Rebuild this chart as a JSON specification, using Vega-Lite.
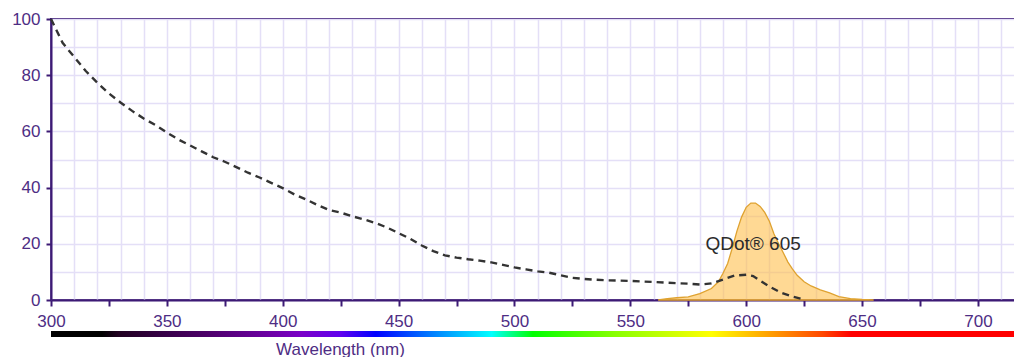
{
  "$schema": "https://vega.github.io/schema/vega-lite/v6.json",
  "padding": {"left": 10, "top": 9, "right": 0, "bottom": 0},
  "config": {"font": "Liberation Sans", "view": {"stroke": null}},
  "spacing": 1,
  "datasets": {
    "abs": [
      {"wl": 300, "v": 100}, {"wl": 305, "v": 91.5}, {"wl": 310, "v": 86.5}, {"wl": 315, "v": 81.5},
      {"wl": 320, "v": 77.3}, {"wl": 325, "v": 73.5}, {"wl": 330, "v": 70.3}, {"wl": 335, "v": 67.3},
      {"wl": 340, "v": 64.6}, {"wl": 345, "v": 62.3}, {"wl": 350, "v": 59.6}, {"wl": 355, "v": 57.1},
      {"wl": 360, "v": 55}, {"wl": 365, "v": 52.9}, {"wl": 370, "v": 50.8}, {"wl": 375, "v": 49.2},
      {"wl": 380, "v": 47.3}, {"wl": 385, "v": 45.3}, {"wl": 390, "v": 43.6}, {"wl": 395, "v": 41.7},
      {"wl": 400, "v": 39.8}, {"wl": 405, "v": 37.6}, {"wl": 410, "v": 35.8}, {"wl": 415, "v": 33.8},
      {"wl": 420, "v": 32}, {"wl": 425, "v": 31.1}, {"wl": 430, "v": 29.8}, {"wl": 435, "v": 28.7},
      {"wl": 440, "v": 27.4}, {"wl": 445, "v": 25.8}, {"wl": 450, "v": 23.8}, {"wl": 455, "v": 21.8},
      {"wl": 460, "v": 19.4}, {"wl": 465, "v": 17.4}, {"wl": 470, "v": 15.9}, {"wl": 475, "v": 15.1},
      {"wl": 480, "v": 14.5}, {"wl": 485, "v": 14}, {"wl": 490, "v": 13.4}, {"wl": 495, "v": 12.5},
      {"wl": 500, "v": 11.6}, {"wl": 505, "v": 10.9}, {"wl": 510, "v": 10.2}, {"wl": 515, "v": 9.7},
      {"wl": 520, "v": 8.8}, {"wl": 525, "v": 7.9}, {"wl": 530, "v": 7.5}, {"wl": 535, "v": 7.2},
      {"wl": 540, "v": 7}, {"wl": 545, "v": 6.9}, {"wl": 550, "v": 6.8}, {"wl": 555, "v": 6.6},
      {"wl": 560, "v": 6.4}, {"wl": 565, "v": 6.2}, {"wl": 570, "v": 6}, {"wl": 575, "v": 5.8},
      {"wl": 580, "v": 5.5}, {"wl": 585, "v": 5.9}, {"wl": 590, "v": 7.3}, {"wl": 595, "v": 8.7},
      {"wl": 600, "v": 9}, {"wl": 603, "v": 8.5}, {"wl": 606, "v": 6.9}, {"wl": 610, "v": 4.8},
      {"wl": 615, "v": 2.6}, {"wl": 620, "v": 1.2}, {"wl": 625, "v": 0.2}
    ],
    "em": [
      {"wl": 562, "v": 0}, {"wl": 566, "v": 0.5}, {"wl": 570, "v": 0.8}, {"wl": 575, "v": 1.1},
      {"wl": 580, "v": 2.3}, {"wl": 585, "v": 4.1}, {"wl": 588, "v": 6.5}, {"wl": 590, "v": 9.5},
      {"wl": 592, "v": 13}, {"wl": 594, "v": 18.5}, {"wl": 596, "v": 24.5}, {"wl": 598, "v": 29.5},
      {"wl": 600, "v": 33}, {"wl": 602, "v": 34.5}, {"wl": 604, "v": 34.5}, {"wl": 606, "v": 33.3},
      {"wl": 608, "v": 31.2}, {"wl": 610, "v": 28}, {"wl": 612, "v": 23.5}, {"wl": 614, "v": 20},
      {"wl": 616, "v": 16.8}, {"wl": 618, "v": 13.5}, {"wl": 620, "v": 11}, {"wl": 622, "v": 8.8},
      {"wl": 625, "v": 6.5}, {"wl": 628, "v": 5}, {"wl": 632, "v": 3.6}, {"wl": 636, "v": 2.5},
      {"wl": 640, "v": 1.2}, {"wl": 645, "v": 0.5}, {"wl": 650, "v": 0.2}, {"wl": 655, "v": 0}
    ],
    "lab": [{"wl": 603, "v": 20, "name": "QDot® 605"}],
    "bar": [{"start": 300, "end": 716}]
  },
  "vconcat": [
    {
      "width": 964,
      "height": 281,
      "view": {"stroke": "#3D1A75", "strokeWidth": 2},
      "encoding": {
        "x": {
          "field": "wl", "type": "quantitative",
          "scale": {"domain": [300, 716], "nice": false, "zero": false},
          "axis": {
            "orient": "bottom", "title": null,
            "values": [300,305,310,315,320,325,330,335,340,345,350,355,360,365,370,375,380,385,390,395,400,405,410,415,420,425,430,435,440,445,450,455,460,465,470,475,480,485,490,495,500,505,510,515,520,525,530,535,540,545,550,555,560,565,570,575,580,585,590,595,600,605,610,615,620,625,630,635,640,645,650,655,660,665,670,675,680,685,690,695,700,705,710,715],
            "grid": true, "gridColor": "#E4DFF7", "gridWidth": 1.5,
            "gridOpacity": {"condition": {"test": "datum.value % 10 === 0", "value": 1}, "value": 0},
            "tickOpacity": {"condition": {"test": "datum.value % 25 === 0", "value": 1}, "value": 0},
            "tickColor": "#3D1A75", "tickWidth": 2, "tickSize": 6,
            "domainColor": "#3D1A75", "domainWidth": 2,
            "labelExpr": "datum.value % 50 === 0 ? datum.label : ''",
            "labelOverlap": false, "labelFlush": false,
            "labelFontSize": 17, "labelColor": "#4E2D84", "labelPadding": 7
          }
        },
        "y": {
          "field": "v", "type": "quantitative",
          "scale": {"domain": [0, 100], "nice": false},
          "axis": {
            "title": null,
            "values": [0,10,20,30,40,50,60,70,80,90,100],
            "grid": true, "gridColor": "#E4DFF7", "gridWidth": 1.5,
            "tickOpacity": {"condition": {"test": "datum.value % 20 === 0", "value": 1}, "value": 0},
            "tickColor": "#3D1A75", "tickWidth": 2, "tickSize": 5,
            "domainColor": "#3D1A75", "domainWidth": 2,
            "labelExpr": "datum.value % 20 === 0 ? datum.label : ''",
            "labelOverlap": false, "labelFlush": false,
            "labelFontSize": 17, "labelColor": "#4E2D84", "labelPadding": 6
          }
        }
      },
      "layer": [
        {
          "data": {"name": "em"},
          "mark": {"type": "area", "fill": "#FFC04D", "fillOpacity": 0.6, "stroke": "#DFA230", "strokeWidth": 1.3}
        },
        {
          "data": {"name": "abs"},
          "mark": {"type": "line", "color": "#333333", "strokeWidth": 2.4, "strokeDash": [7, 5]}
        },
        {
          "data": {"name": "lab"},
          "mark": {"type": "text", "fontSize": 19, "color": "#2B2B2B", "align": "center", "baseline": "middle"},
          "encoding": {"text": {"field": "name"}}
        }
      ]
    },
    {
      "width": 964,
      "height": 6,
      "data": {"name": "bar"},
      "mark": {
        "type": "rect",
        "color": {
          "gradient": "linear", "x1": 0, "x2": 1, "y1": 0, "y2": 0,
          "stops": [
            {"offset": 0, "color": "#000000"},
            {"offset": 0.053, "color": "#000000"},
            {"offset": 0.07, "color": "#200020"},
            {"offset": 0.12, "color": "#38004a"},
            {"offset": 0.16, "color": "#4c0068"},
            {"offset": 0.23, "color": "#6e00a8"},
            {"offset": 0.26, "color": "#7a00c8"},
            {"offset": 0.3, "color": "#6000ee"},
            {"offset": 0.337, "color": "#0000ff"},
            {"offset": 0.4, "color": "#0088ff"},
            {"offset": 0.457, "color": "#00ffff"},
            {"offset": 0.5, "color": "#00ff00"},
            {"offset": 0.585, "color": "#88ff00"},
            {"offset": 0.685, "color": "#ffff00"},
            {"offset": 0.745, "color": "#ffa000"},
            {"offset": 0.8, "color": "#ff4800"},
            {"offset": 0.83, "color": "#ff0000"},
            {"offset": 1, "color": "#ff0000"}
          ]
        }
      },
      "encoding": {
        "x": {
          "field": "start", "type": "quantitative",
          "scale": {"domain": [300, 716], "nice": false, "zero": false},
          "axis": {
            "title": "Wavelength (nm)", "labels": false, "ticks": false, "domain": false, "grid": false,
            "titleX": 289, "titleAlign": "center", "titleFontSize": 17, "titleFontWeight": "normal",
            "titleColor": "#4E2D84", "titlePadding": 4
          }
        },
        "x2": {"field": "end"}
      }
    }
  ]
}
